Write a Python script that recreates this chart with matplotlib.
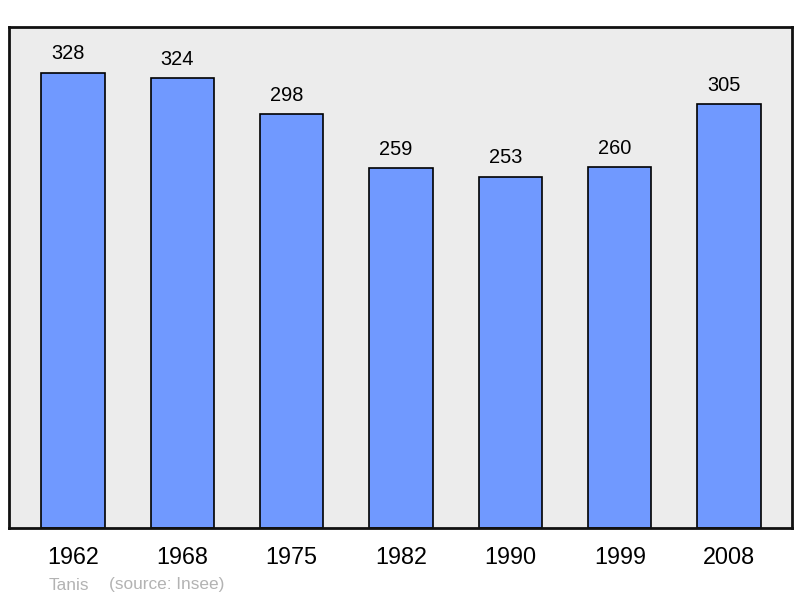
import matplotlib.pyplot as plt

plt.rcParams['font.family'] = ['Liberation Sans', 'DejaVu Sans']

years = ['1962', '1968', '1975', '1982', '1990', '1999', '2008']
population = [328, 324, 298, 259, 253, 260, 305]

fig = plt.figure(figsize=(8, 5.98), dpi=100)
ax = fig.add_axes([9/800, 70/598, 783/800, 501/598])
ax.set_facecolor('#ececec')

x = range(len(years))
bars = ax.bar(x, population, width=0.58, color='#7099ff', edgecolor='black',
              linewidth=1.2, zorder=2)

# value labels, sitting slightly left of the bar centre like the original
for xi, v in zip(x, population):
    ax.annotate(str(v), (xi, v), xytext=(-3.6, 6.8), textcoords='offset points',
                ha='center', va='bottom', fontsize=14.4, color='black')

ax.set_xlim(-0.585, 6.575)
ax.set_ylim(0, 328 * 1.1)
ax.set_xticks(list(x))
ax.set_xticklabels(years, fontsize=16.8)
ax.set_yticks([])
ax.tick_params(axis='x', length=0, pad=13)
for s in ax.spines.values():
    s.set_linewidth(2)
    s.set_color('#111111')

fig.text(49/800, 1 - 585/598, 'Tanis', color='#b3b3b3', fontsize=12.4, va='center')
fig.text(109/800, 1 - 585/598, '(source: Insee)', color='#b3b3b3', fontsize=12.4, va='center')

fig.savefig('out.png', dpi=100)
